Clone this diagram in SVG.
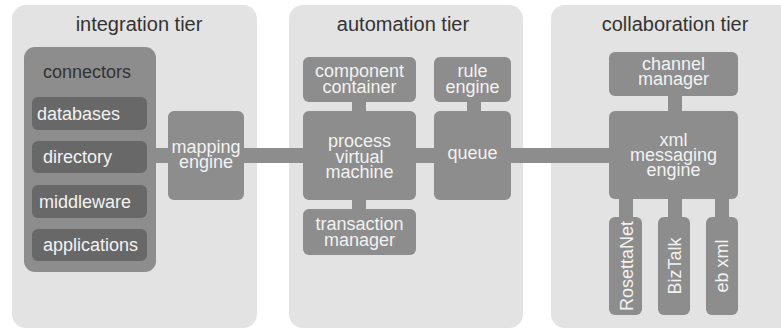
<svg xmlns="http://www.w3.org/2000/svg" width="781" height="330" viewBox="0 0 781 330">
<style>
.panel{fill:#e3e3e3}
.node{fill:#8d8d8d}
.inner{fill:#686868}
.title{font-family:"Liberation Sans",Arial,sans-serif;font-size:20px;fill:#333;text-anchor:middle}
.lbl{font-family:"Liberation Sans",Arial,sans-serif;font-size:18px;fill:#f2f2f2;text-anchor:middle}
.lbl-l{font-family:"Liberation Sans",Arial,sans-serif;font-size:18px;fill:#f2f2f2}
.dark{font-family:"Liberation Sans",Arial,sans-serif;font-size:18px;fill:#333}
.conn{stroke:#8d8d8d;stroke-width:15;fill:none}
.connv{stroke:#8d8d8d;stroke-width:14;fill:none}
</style>
<rect width="781" height="330" fill="#ffffff"/>
<g id="integration-tier">
<rect class="panel" x="12" y="5" width="245" height="323" rx="14"/>
<text class="title" x="139" y="31">integration tier</text>
</g>
<g id="automation-tier">
<rect class="panel" x="289" y="5" width="234" height="323" rx="14"/>
<text class="title" x="403" y="31">automation tier</text>
</g>
<g id="collaboration-tier">
<rect class="panel" x="551" y="5" width="250" height="323" rx="14"/>
<text class="title" x="675" y="31">collaboration tier</text>
</g>
<g id="connectors-lines">
<line class="conn" x1="150" y1="155.5" x2="615" y2="155.5"/>
<line class="connv" x1="359" y1="98" x2="359" y2="115"/>
<line class="connv" x1="359" y1="196" x2="359" y2="213"/>
<line class="connv" x1="474" y1="98" x2="474" y2="115"/>
<line class="connv" x1="675" y1="92" x2="675" y2="115"/>
<line class="connv" x1="626" y1="195" x2="626" y2="221"/>
<line class="connv" x1="675" y1="195" x2="675" y2="221"/>
<line class="connv" x1="722" y1="195" x2="722" y2="221"/>
</g>
<g id="connectors">
<rect class="node" x="24" y="47" width="132" height="225" rx="11"/>
<text class="dark" x="43" y="78">connectors</text>
</g>
<g id="databases">
<rect class="inner" x="32" y="97" width="115" height="33" rx="6"/>
<text class="lbl-l" x="37" y="120">databases</text>
</g>
<g id="directory">
<rect class="inner" x="32" y="141" width="115" height="32" rx="6"/>
<text class="lbl-l" x="43" y="163">directory</text>
</g>
<g id="middleware">
<rect class="inner" x="32" y="185" width="115" height="33" rx="6"/>
<text class="lbl-l" x="39" y="208">middleware</text>
</g>
<g id="applications">
<rect class="inner" x="32" y="229" width="115" height="32" rx="6"/>
<text class="lbl-l" x="43" y="251">applications</text>
</g>
<g id="mapping-engine">
<rect class="node" x="168" y="111" width="76" height="89" rx="6"/>
<text class="lbl" x="206" y="153">mapping</text>
<text class="lbl" x="206" y="168">engine</text>
</g>
<g id="component-container">
<rect class="node" x="303" y="57" width="113" height="45" rx="6"/>
<text class="lbl" x="359.5" y="77">component</text>
<text class="lbl" x="359.5" y="93">container</text>
</g>
<g id="process-virtual-machine">
<rect class="node" x="303" y="111" width="113" height="89" rx="6"/>
<text class="lbl" x="359.5" y="147">process</text>
<text class="lbl" x="359.5" y="163">virtual</text>
<text class="lbl" x="359.5" y="178">machine</text>
</g>
<g id="transaction-manager">
<rect class="node" x="303" y="209" width="113" height="46" rx="6"/>
<text class="lbl" x="359.5" y="230">transaction</text>
<text class="lbl" x="359.5" y="246">manager</text>
</g>
<g id="rule-engine">
<rect class="node" x="434" y="57" width="77" height="45" rx="6"/>
<text class="lbl" x="472.5" y="77">rule</text>
<text class="lbl" x="472.5" y="93">engine</text>
</g>
<g id="queue">
<rect class="node" x="434" y="111" width="77" height="89" rx="6"/>
<text class="lbl" x="472.5" y="159">queue</text>
</g>
<g id="channel-manager">
<rect class="node" x="609" y="52" width="129" height="44" rx="6"/>
<text class="lbl" x="673.5" y="70">channel</text>
<text class="lbl" x="673.5" y="85">manager</text>
</g>
<g id="xml-messaging-engine">
<rect class="node" x="609" y="111" width="129" height="88" rx="6"/>
<text class="lbl" x="673.5" y="146">xml</text>
<text class="lbl" x="673.5" y="161">messaging</text>
<text class="lbl" x="673.5" y="176">engine</text>
</g>
<g id="rosettanet">
<rect class="node" x="609" y="217" width="33" height="98" rx="6"/>
<text class="lbl" transform="translate(632.5,266) rotate(-90)">RosettaNet</text>
</g>
<g id="biztalk">
<rect class="node" x="658" y="217" width="32" height="98" rx="6"/>
<text class="lbl" transform="translate(680.5,266) rotate(-90)">BizTalk</text>
</g>
<g id="eb-xml">
<rect class="node" x="706" y="217" width="32" height="98" rx="6"/>
<text class="lbl" transform="translate(727.5,266) rotate(-90)">eb xml</text>
</g>
</svg>
